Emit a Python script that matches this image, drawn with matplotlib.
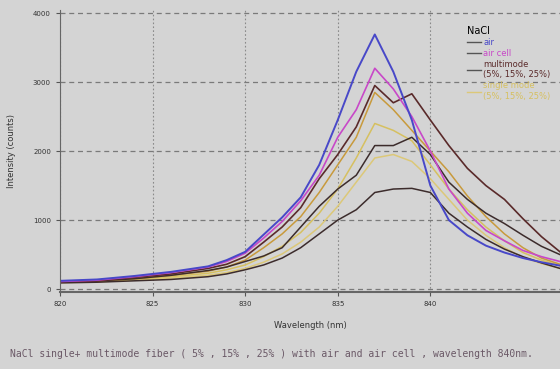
import numpy as np
import matplotlib.pyplot as plt
from matplotlib.lines import Line2D

# wavelength grid (nm)
wl = [820, 822, 824, 826, 828, 829, 830, 831, 832, 833, 834, 835,
      836, 837, 838, 839, 840, 841, 842, 843, 844, 845, 846, 847]

air = [120, 140, 190, 250, 330, 420, 540, 790, 1040, 1330, 1800, 2450,
       3150, 3690, 3150, 2450, 1500, 1000, 780, 630, 530, 450, 390, 340]
air_cell = [110, 130, 180, 240, 320, 400, 520, 740, 980, 1280, 1650, 2200,
            2600, 3200, 2900, 2500, 2000, 1450, 1100, 850, 700, 560, 470, 400]
multi_25 = [110, 120, 170, 220, 300, 360, 470, 680, 900, 1180, 1600, 1950,
            2350, 2950, 2700, 2830, 2450, 2080, 1750, 1500, 1300, 1020, 760, 540]
multi_15 = [100, 120, 150, 200, 270, 320, 400, 480, 600, 900, 1200, 1450,
            1650, 2080, 2080, 2200, 1950, 1550, 1300, 1100, 950, 780, 620, 500]
multi_5 = [90, 100, 120, 140, 180, 220, 280, 350, 450, 600, 800, 1000,
           1150, 1400, 1450, 1460, 1400, 1100, 900, 720, 580, 470, 380, 300]
single_25 = [100, 110, 150, 200, 260, 320, 420, 600, 800, 1050, 1400, 1800,
             2200, 2850, 2600, 2300, 2000, 1700, 1350, 1050, 800, 600, 450, 360]
single_15 = [100, 110, 140, 180, 230, 280, 350, 470, 620, 820, 1100, 1450,
             1900, 2400, 2300, 2150, 1800, 1450, 1150, 900, 700, 530, 420, 340]
single_5 = [95, 105, 130, 160, 200, 240, 300, 390, 510, 680, 900, 1200,
            1550, 1900, 1950, 1850, 1600, 1300, 1000, 780, 600, 460, 370, 300]

xticks = [820, 825, 830, 835, 840]
yticks = [0, 1000, 2000, 3000, 4000]

bg = '#d4d4d4'
c_air = '#4848c8'
c_cell = '#c848c8'
c_multi = '#5a2a2a'
c_multi2 = '#3c2c2c'
c_single = '#c89a3c'
c_single2 = '#d6c060'
c_single3 = '#dcc878'

fig = plt.figure(figsize=(5.6, 3.69), dpi=100, facecolor=bg)
ax = fig.add_axes([0.107, 0.209, 0.893, 0.765], facecolor=bg)

ax.plot(wl, single_5, color=c_single3, lw=1.1)
ax.plot(wl, single_15, color=c_single2, lw=1.1)
ax.plot(wl, single_25, color=c_single, lw=1.1)
ax.plot(wl, multi_5, color=c_multi2, lw=1.1)
ax.plot(wl, multi_15, color=c_multi2, lw=1.1)
ax.plot(wl, multi_25, color=c_multi, lw=1.2)
ax.plot(wl, air_cell, color=c_cell, lw=1.2)
ax.plot(wl, air, color=c_air, lw=1.4)

ax.set_xlim(820, 847)
ax.set_ylim(-40, 4050)
ax.set_xticks(xticks)
ax.set_yticks(yticks)
ax.tick_params(labelsize=5, length=3, color='#555555', labelcolor='#333333')

ax.grid(axis='y', color='#7a7a7a', ls=(0, (4, 3)), lw=0.9)
ax.grid(axis='x', color='#8a8a8a', ls=(0, (1.5, 2)), lw=0.8)

for s in ['top', 'right']:
    ax.spines[s].set_visible(False)
ax.spines['left'].set_color('#666666')
ax.spines['bottom'].set_color('#666666')
ax.spines['bottom'].set_linewidth(1.5)

ax.set_xlabel('Wavelength (nm)', fontsize=6, color='#333333', labelpad=10)
ax.set_ylabel('Intensity (counts)', fontsize=6, color='#333333', labelpad=12)

handles = [Line2D([], [], color='#555555', lw=1),
           Line2D([], [], color='#555555', lw=1),
           Line2D([], [], color='#555555', lw=1),
           Line2D([], [], color=c_single3, lw=1)]
labels = ['air', 'air cell', 'multimode\n(5%, 15%, 25%)',
          'single mode\n(5%, 15%, 25%)']
leg = ax.legend(handles, labels, title='NaCl', loc='upper left',
                bbox_to_anchor=(0.8, 0.97), frameon=False, fontsize=6,
                title_fontsize=7, handlelength=1.6, handletextpad=0.3,
                labelspacing=0.25, alignment='left')
for t, c in zip(leg.get_texts(), [c_air, c_cell, c_multi, c_single2]):
    t.set_color(c)

fig.text(0.018, 0.032,
         'NaCl single+ multimode fiber ( 5% , 15% , 25% ) with air and air cell , wavelength 840nm.',
         fontsize=7, family='DejaVu Sans Mono', color='#6a5866')

fig.savefig('out.png', dpi=100, facecolor=bg)
